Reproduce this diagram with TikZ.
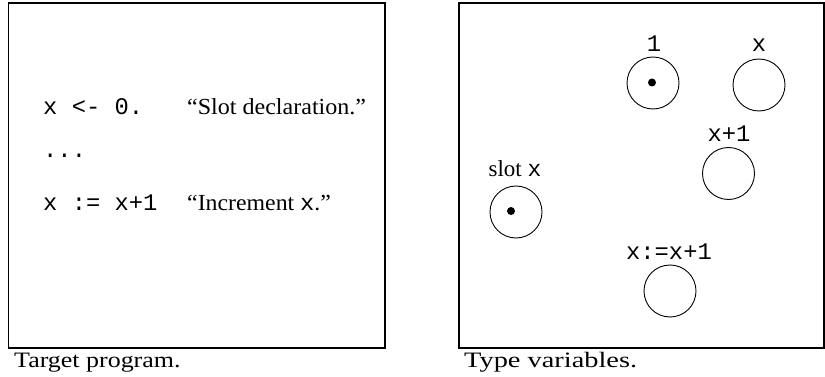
\documentclass[tikz,border=0pt]{standalone}
\usepackage{fontspec}
\usepackage{graphicx}
\setmainfont{Liberation Serif}
\setmonofont{Liberation Mono}
% horizontally widened text
\newcommand{\widen}[2]{\scalebox{#1}[1]{#2}}
\begin{document}
\begin{tikzpicture}[x=1pt,y=-1pt,
  txt/.style={inner sep=0pt,font=\fontsize{23}{26}\selectfont},
  capt/.style={inner sep=0pt,font=\fontsize{22}{25}\selectfont},
  code/.style={inner sep=0pt,font=\fontsize{23.8}{26}\selectfont\ttfamily},
  frame/.style={draw,line width=1.1pt},
  tvar/.style={draw,circle,line width=0.9pt,minimum size=52pt,inner sep=0pt},
  pin/.style={fill,circle,minimum size=8pt,inner sep=0pt}]
\useasboundingbox (0,0) rectangle (825,377);

% Left panel: the program text
\draw[frame] (8.5,3) rectangle (385,348);
\node[code,anchor=base west] (decl) at (43,115) {x <- 0.};
\node[txt,anchor=base west] (declc) at (187,115) {\widen{1.045}{“Slot declaration.”}};
\node[code,anchor=base west] (dots) at (43,158) {...};
\node[code,anchor=base west] (incr) at (43,211) {x := x+1};
\node[txt,anchor=base west] (incrc) at (187,211) {\widen{1.035}{“Increment \texttt{x}.”}};
\node[capt,anchor=base west] (capL) at (14,367) {\widen{1.18}{Target program.}};

% Right panel: one type variable per program point
\draw[frame] (459,3) rectangle (824,348);
\node[tvar] (one) at (653,83) {};
\node[pin] at (652,82.5) {};
\node[code,anchor=base] at (654,52) {1};
\node[tvar] (xv) at (759,85) {};
\node[code,anchor=base] at (759,52) {x};
\node[tvar] (xp1) at (728.5,173.5) {};
\node[code,anchor=base] at (729,141.5) {x+1};
\node[tvar] (slot) at (516,212) {};
\node[pin] at (511,211) {};
\node[txt,anchor=base] at (515,176.5) {slot \texttt{x}};
\node[tvar] (asg) at (670,291) {};
\node[code,anchor=base] at (669,259) {x:=x+1};
\node[capt,anchor=base west] (capR) at (464,367) {\widen{1.29}{Type variables.}};
\end{tikzpicture}
\end{document}
